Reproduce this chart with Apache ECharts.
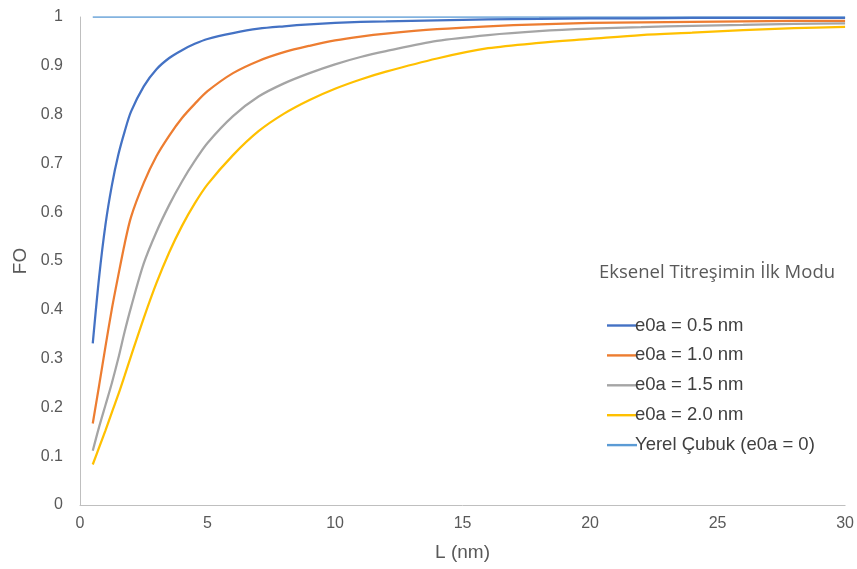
<!DOCTYPE html>
<html><head><meta charset="utf-8">
<script src="https://cdn.jsdelivr.net/npm/echarts@6/dist/echarts.min.js"></script>
<style>html,body{margin:0;padding:0;background:#fff}#c{width:857px;height:569px}</style>
</head><body><div id="c"></div>
<script>
const L = [0.5,0.75,1,1.25,1.5,1.75,2,2.5,3,3.5,4,4.5,5,6,7,8,9,10,11,12,14,16,18,20,22,24,26,28,30];
const fo05 = [0.331,0.467,0.575,0.655,0.717,0.765,0.806,0.858,0.893,0.916,0.932,0.945,0.955,0.967,0.976,0.981,0.985,0.988,0.990,0.991,0.993,0.995,0.996,0.997,0.997,0.998,0.998,0.998,0.998];
const fo10 = [0.167,0.245,0.325,0.402,0.470,0.535,0.590,0.660,0.715,0.757,0.793,0.822,0.848,0.885,0.910,0.928,0.941,0.952,0.960,0.966,0.975,0.981,0.985,0.988,0.989,0.990,0.991,0.992,0.992];
const fo15 = [0.111,0.160,0.205,0.250,0.300,0.355,0.405,0.495,0.560,0.615,0.663,0.705,0.742,0.797,0.837,0.864,0.885,0.903,0.918,0.930,0.951,0.963,0.971,0.976,0.979,0.982,0.984,0.986,0.987];
const fo20 = [0.083,0.118,0.153,0.190,0.226,0.265,0.305,0.383,0.455,0.518,0.572,0.618,0.657,0.717,0.766,0.802,0.830,0.853,0.872,0.888,0.915,0.936,0.947,0.955,0.963,0.968,0.973,0.977,0.980];
const local = [1,1,1,1,1,1,1,1,1,1,1,1,1,1,1,1,1,1,1,1,1,1,1,1,1,1,1,1,1];
const names = ['e0a = 0.5 nm','e0a = 1.0 nm','e0a = 1.5 nm','e0a = 2.0 nm','Yerel Çubuk (e0a = 0)'];
const colors = ['#4472C4','#ED7D31','#A5A5A5','#FFC000','#5B9BD5'];
const legendTitle = 'Eksenel Titreşimin İlk Modu';
const xName = 'L (nm)', yName = 'FO';
const all = [fo05, fo10, fo15, fo20, local];

const chart = echarts.init(document.getElementById('c'));
const axisFont = {color:'#595959', fontSize:16, fontFamily:'"Liberation Sans",Arial,sans-serif'};
chart.setOption({
  animation:false,
  color: colors,
  title:{text:legendTitle, left:594, top:258, textStyle:{color:'#595959', fontSize:18.5, fontWeight:'normal', fontFamily:'"Open Sans","Noto Sans",sans-serif'}},
  legend:{orient:'vertical', left:602, top:311, itemWidth:30, itemHeight:14, itemGap:10.9, icon:'rect',
    data:names.map((n,i)=>({name:n, icon:'path://M0,0H30V2.4H0Z'})),
    textStyle:{color:'#404040', fontSize:18.5, padding:[0,0,0,-7], fontFamily:'"Liberation Sans",Arial,sans-serif'}},
  grid:{left:80, right:11, top:17, bottom:64},
  xAxis:{type:'value', min:0, max:30, interval:5, name:xName, nameLocation:'middle', nameGap:38,
    nameTextStyle:{color:'#595959', fontSize:19, fontFamily:'"Liberation Sans",Arial,sans-serif'},
    axisLine:{show:true, lineStyle:{color:'#BFBFBF', width:1}}, axisTick:{show:false}, splitLine:{show:false},
    axisLabel:Object.assign({margin:11}, axisFont)},
  yAxis:{type:'value', min:0, max:1, interval:0.1, name:yName, nameLocation:'middle', nameGap:50,
    nameTextStyle:{color:'#595959', fontSize:19, fontFamily:'"Liberation Sans",Arial,sans-serif'},
    axisLine:{show:true, lineStyle:{color:'#BFBFBF', width:1}}, axisTick:{show:false}, splitLine:{show:false},
    axisLabel:Object.assign({margin:17, formatter:v=>String(Math.round(v*10)/10)}, axisFont)},
  series: names.map((n,i)=>({
    name:n, type:'line', data:L.map((x,j)=>[x, all[i][j]]), symbol:'none', smooth:0.3,
    lineStyle:{width: i===4?1.5:2.25, color:colors[i]}, itemStyle:{color:colors[i]}, z: i===4?1:2
  }))
});
</script></body></html>
